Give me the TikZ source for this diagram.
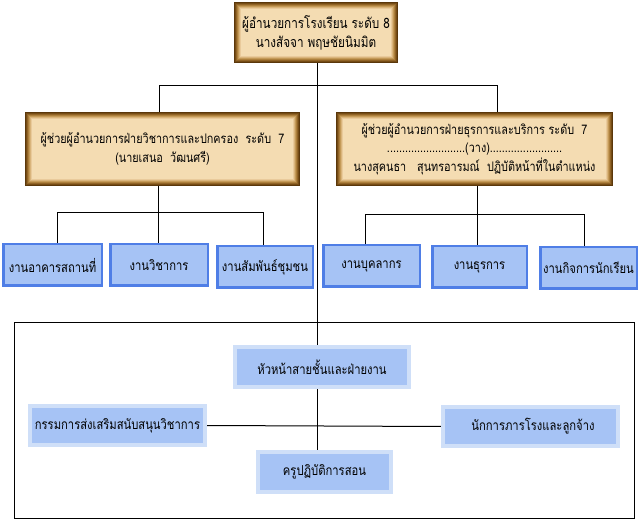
\documentclass[tikz,border=0pt]{standalone}
\usepackage{fontspec}
\newfontfamily\thai[Script=Thai,FakeStretch=0.82]{Loma}
\usetikzlibrary{calc,backgrounds}
\definecolor{tanfill}{HTML}{F4DCB2}
\definecolor{bz0}{HTML}{5A370B}
\definecolor{bz1}{HTML}{754C15}
\definecolor{bz2}{HTML}{916427}
\definecolor{bz3}{HTML}{AC7F3C}
\definecolor{bz4}{HTML}{C49A58}
\definecolor{bz5}{HTML}{D9B47B}
\definecolor{bz6}{HTML}{E9CA9B}
\definecolor{bluefill}{HTML}{A6C3F5}
\definecolor{blueedge}{HTML}{4F7EE6}
\definecolor{bluepale}{HTML}{CFDFF8}
\begin{document}
\begin{tikzpicture}[x=1pt,y=-1pt,
  goldbox/.style={rectangle, inner sep=0pt, fill=tanfill, align=center,
    font=\thai\fontsize{13.2}{19.5}\selectfont},
  upbox/.style={rectangle, inner sep=0pt, fill=bluefill, draw=blueedge, line width=2.5pt,
    align=center, font=\thai\fontsize{13.7}{15}\selectfont},
  lowbox/.style={rectangle, inner sep=0pt, fill=bluefill, draw=bluepale, line width=4pt,
    align=center, font=\thai\fontsize{13.7}{15}\selectfont},
  link/.style={draw=black, line width=1pt}]
\useasboundingbox (0,0) rectangle (640,521);

% gold boxes
\node[goldbox, minimum width=164pt, minimum height=61pt, font=\thai\fontsize{14.3}{19}\selectfont] (top) at (316,32.5)
  {ผู้อำนวยการโรงเรียน ระดับ 8\\นางสัจจา พฤษชัยนิมมิต};
\node[goldbox, minimum width=275pt, minimum height=74pt] (lg) at (162.5,149)
  {ผู้ช่วยผู้อำนวยการฝ่ายวิชาการและปกครอง\ \ ระดับ\ \ 7\\(นายเสนอ\ \ วัฒนศรี)};
\node[goldbox, minimum width=277pt, minimum height=74pt] (rg) at (474.5,149)
  {ผู้ช่วยผู้อำนวยการฝ่ายธุรการและบริการ ระดับ\ \ 7\\[-1pt]
   ..........................(วาง)........................\\[-1pt]
   นางสุคนธา\ \ \ สุนทรอารมณ์\ \ ปฏิบัติหน้าที่ในตำแหน่ง};
% bevel frames
\foreach \n in {top,lg,rg}{
  \foreach \i/\c in {0/bz0,1/bz1,2/bz2,3/bz3,4/bz4,5/bz5,6/bz6}{
    \draw[\c, line width=1.05pt] ($(\n.north west)+(\i+0.5,\i+0.5)$) rectangle ($(\n.south east)+(-\i-0.5,-\i-0.5)$);
  }
}

% upper blue boxes
\node[upbox, minimum width=98.5pt, minimum height=41.5pt] (b1) at (52.5,265) {งานอาคารสถานที่};
\node[upbox, minimum width=97.5pt, minimum height=41.5pt] (b2) at (159,265) {งานวิชาการ};
\node[upbox, minimum width=95.5pt, minimum height=41.5pt] (b3) at (265,267) {งานสัมพันธ์ชุมชน};
\node[upbox, minimum width=96.5pt, minimum height=41.5pt] (b4) at (371.5,266) {งานบุคลากร};
\node[upbox, minimum width=94.5pt, minimum height=41.5pt] (b5) at (479.5,267) {งานธุรการ};
\node[upbox, minimum width=96.5pt, minimum height=41.5pt] (b6) at (588.5,268) {งานกิจการนักเรียน};

% lower boxes
\node[lowbox, minimum width=174pt, minimum height=40pt] (hub) at (322,367) {หัวหน้าสายชั้นและฝ่ายงาน};
\node[lowbox, minimum width=175pt, minimum height=39pt] (lft) at (117.5,425.5) {กรรมการส่งเสริมสนับสนุนวิชาการ};
\node[lowbox, minimum width=175pt, minimum height=39pt] (rgt) at (530.5,426.5) {\hspace*{5pt}นักการภารโรงและลูกจ้าง};
\node[lowbox, minimum width=133pt, minimum height=40pt] (bot) at (324.5,472) {ครูปฏิบัติการสอน};

\coordinate (spine) at (317,0);
\coordinate (tl) at (159,86);
\coordinate (tr) at (497,86);
\coordinate (lj) at (158,213);
\coordinate (l1) at (57,213);
\coordinate (l3) at (263,213);
\coordinate (rj) at (477,215);
\coordinate (r1) at (365,215);
\coordinate (r3) at (584,215);

\begin{scope}[on background layer]
  \fill[white] (0,0) rectangle (640,521);
  \draw[line width=1pt] (14,323) rectangle (634,518);
  \draw[link] (top.south -| spine) -- (hub.north -| spine);
  \draw[link] (lg.north -| tl) -- (tl) -- (tr) -- (rg.north -| tr);
  \draw[link] (lg.south -| lj) -- (b2.north -| lj);
  \draw[link] (b1.north -| l1) -- (l1) -- (l3) -- (b3.north -| l3);
  \draw[link] (rg.south -| rj) -- (b5.north -| rj);
  \draw[link] (b4.north -| r1) -- (r1) -- (r3) -- (b6.north -| r3);
  \draw[link] (hub.south -| spine) -- (bot.north -| spine);
  \draw[link] (lft.east) -- (rgt.west);
\end{scope}
\end{tikzpicture}
\end{document}
